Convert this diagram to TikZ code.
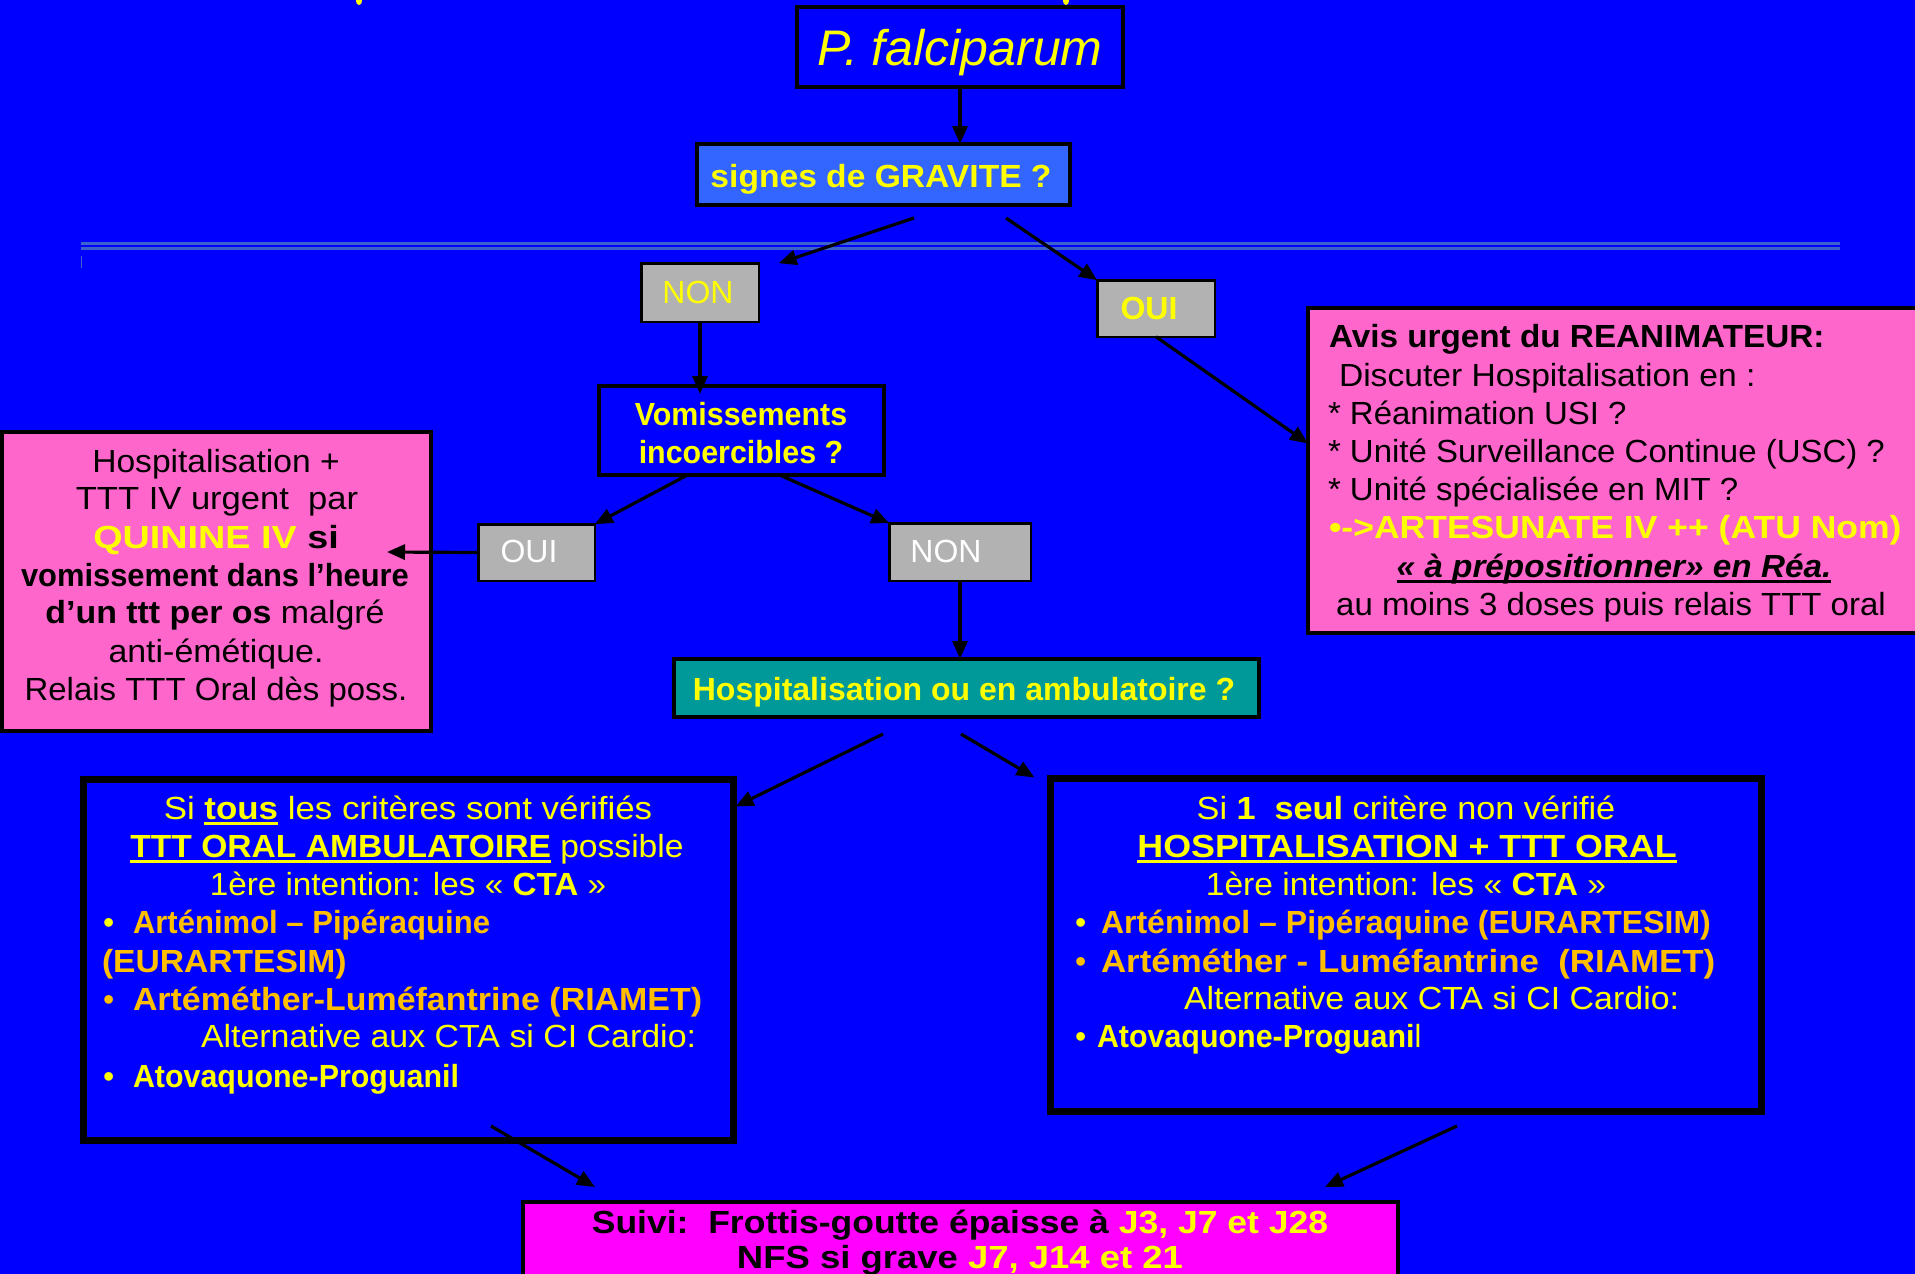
\documentclass[tikz,border=0pt]{standalone}
\usepackage{graphicx}
\usepackage{fontspec}
\setmainfont{Liberation Sans}
\usetikzlibrary{arrows.meta,calc}

\definecolor{bgblue}{HTML}{0000FF}
\definecolor{lightblue}{HTML}{3366FF}
\definecolor{rulesteel}{HTML}{3A63CC}
\definecolor{greybox}{HTML}{B2B2B2}
\definecolor{pinkbox}{HTML}{FF66CC}
\definecolor{tealbox}{HTML}{009999}
\definecolor{magentabox}{HTML}{FF00FF}
\definecolor{ytext}{HTML}{FFFF00}
\definecolor{otext}{HTML}{FFBF00}

\newcommand\bodysize{\fontsize{32}{38}\selectfont}
\newsavebox\ulinebox
\newcommand\ulined[1]{\sbox\ulinebox{#1}\rlap{\rule[-6pt]{\wd\ulinebox}{3pt}}\usebox\ulinebox}
\newcommand\bul[2]{\makebox[#1][l]{•}#2}
% horizontal stretch of one line of text
\newcommand\sx[2]{\scalebox{#1}[1]{#2}}

\begin{document}
\begin{tikzpicture}[x=1pt,y=-1pt,
  box/.style={draw=black, inner sep=0pt, outer sep=0pt},
  greybox/.style={box, fill=greybox, line width=2.5pt},
  arr/.style={draw=black, line width=3.2pt, -{Triangle[length=18pt,width=15pt]}},
  txt/.style={inner sep=0pt, outer sep=0pt, font=\bodysize},
]
\useasboundingbox (0,0) rectangle (1915,1274);
\fill[bgblue] (0,0) rectangle (1915,1274);

% fragments of a heading above the frame
\fill[ytext] (359,1) ellipse (3 and 4);
\fill[ytext] (1066,1) ellipse (3 and 4);

% double separator rule
\draw[rulesteel, line width=2.6pt] (81,243.3) -- (1840,243.3);
\draw[rulesteel, line width=2.6pt] (81,248.6) -- (1840,248.6);
\draw[rulesteel, line width=0.8pt] (81,256) -- (81,268);

% boxes
\node[box, fill=bgblue, line width=4pt, minimum width=326pt, minimum height=80pt] (pf) at (960,47) {};
\node[box, fill=lightblue, line width=4pt, minimum width=373pt, minimum height=61pt] (grav) at (883.5,174.5) {};
\node[greybox, minimum width=117.5pt, minimum height=58.5pt] (non1) at (700,292.5) {};
\node[greybox, minimum width=117.5pt, minimum height=56.5pt] (oui1) at (1156,308.5) {};
\node[box, fill=pinkbox, line width=4pt, minimum width=627pt, minimum height=325pt] (avis) at (1621.5,470.5) {};
\node[box, fill=bgblue, line width=4pt, minimum width=285pt, minimum height=89pt] (vom) at (741.5,430.5) {};
\node[greybox, minimum width=116.5pt, minimum height=56.5pt] (oui2) at (536.5,552.5) {};
\node[greybox, minimum width=141.5pt, minimum height=57.5pt] (non2) at (960,552) {};
\node[box, fill=pinkbox, line width=4pt, minimum width=429pt, minimum height=299pt] (quin) at (216.5,581.5) {};
\node[box, fill=tealbox, line width=4pt, minimum width=585pt, minimum height=58pt] (hosp) at (966.5,688) {};
\node[box, fill=bgblue, line width=7pt, minimum width=650pt, minimum height=361pt] (lbox) at (408.5,960) {};
\node[box, fill=bgblue, line width=7pt, minimum width=711pt, minimum height=333pt] (rbox) at (1406,945) {};
\node[box, fill=magentabox, line width=4pt, minimum width=875pt, minimum height=100pt] (suivi) at (960.5,1252) {};

% connector start points
\coordinate (g1) at (914,218);
\coordinate (g2) at (1006,218);
\coordinate (qtip) at (387,552);
\coordinate (h1) at (883,734);
\coordinate (h2) at (961,734);
\coordinate (b1) at (491,1126);
\coordinate (b2) at (1457,1126);

% connectors
\draw[arr] (pf.south) -- (pf.south |- grav.north);
\draw[arr] (g1) -- ($(non1.north east)+(20,0)$);
\draw[arr] (g2) -- (oui1.north west);
\draw[arr] (oui1.south) -- ($(avis.west)+(0,-27)$);
\draw[arr] (non1.south) -- ($(non1.south |- vom.north)+(0,8)$);
\draw[arr] ($(vom.south)+(-54,0)$) -- (oui2.north east);
\draw[arr] ($(vom.south)+(38,0)$) -- (non2.north west);
\draw[arr] (oui2.west) -- (qtip);
\draw[arr] (non2.south) -- (non2.south |- hosp.north);
\draw[arr] (h1) -- ($(lbox.north east)+(2,27)$);
\draw[arr] (h2) -- ($(rbox.north west)+(-16,-1)$);
\draw[arr] (b1) -- ($(suivi.north west)+(72,-15)$);
\draw[arr] (b2) -- ($(suivi.north east)+(-73,-15)$);

% labels of the decision boxes
\node[txt, font=\fontsize{50}{60}\selectfont\itshape, text=ytext, anchor=base] (tpf) at (960,65) {P. falciparum};
\node[txt, text=ytext, anchor=base] (tgrav) at (881,187) {\sx{1.05}{\textbf{signes de GRAVITE ?}}};
\node[txt, text=ytext, anchor=base] (tnon1) at (698,303) {NON};
\node[txt, text=ytext, anchor=base] (toui1) at (1149,319) {\textbf{OUI}};
\node[txt, text=ytext, anchor=base] (tvom1) at (741,425) {\sx{0.95}{\textbf{Vomissements}}};
\node[txt, text=ytext, anchor=base] (tvom2) at (741,463) {\sx{0.95}{\textbf{incoercibles ?}}};
\node[txt, text=white, anchor=base] (toui2) at (529,562) {OUI};
\node[txt, text=white, anchor=base] (tnon2) at (946,562) {NON};
\node[txt, text=ytext, anchor=base] (thosp) at (964,700) {\textbf{Hospitalisation ou en ambulatoire ?}};

% intensive care advice
\node[txt, anchor=base west] (av1) at (1329,347) {\sx{1.04}{\textbf{Avis urgent du REANIMATEUR:}}};
\node[txt, anchor=base west] (av2) at (1339,386) {\sx{1.05}{Discuter Hospitalisation en :}};
\node[txt, anchor=base west] (av3) at (1328,424) {\sx{1.03}{* Réanimation USI ?}};
\node[txt, anchor=base west] (av4) at (1328,462) {\sx{1.03}{* Unité Surveillance Continue (USC) ?}};
\node[txt, anchor=base west] (av5) at (1328,500) {\sx{1.03}{* Unité spécialisée en MIT ?}};
\node[txt, anchor=base west, text=ytext] (av6) at (1329,538) {\sx{1.11}{\textbf{•->ARTESUNATE IV ++ (ATU Nom)}}};
\node[txt, anchor=base] (av7) at (1614,577) {\sx{1.04}{\ulined{\textbf{\textit{« à prépositionner» en Réa.}}}}};
\node[txt, anchor=base] (av8) at (1611,615) {\sx{1.03}{au moins 3 doses puis relais TTT oral}};

% vomiting branch
\node[txt, anchor=base] (q1) at (216,472) {\sx{1.05}{Hospitalisation +}};
\node[txt, anchor=base] (q2) at (217,509) {\sx{1.08}{TTT IV urgent\ \ par}};
\node[txt, anchor=base] (q3) at (216,548) {\sx{1.18}{\textcolor{ytext}{\textbf{QUININE IV}} \textbf{si}}};
\node[txt, anchor=base] (q4) at (215,586) {\sx{0.965}{\textbf{vomissement dans l’heure}}};
\node[txt, anchor=base] (q5) at (215,623) {\sx{1.06}{\textbf{d’un ttt per os} malgré}};
\node[txt, anchor=base] (q6) at (216,662) {\sx{1.06}{anti-émétique.}};
\node[txt, anchor=base] (q7) at (216,700) {\sx{1.03}{Relais TTT Oral dès poss.}};

% outpatient treatment
\node[txt, anchor=base, text=ytext] (l1) at (408,819) {\sx{1.09}{Si \ulined{\textbf{tous}} les critères sont vérifiés}};
\node[txt, anchor=base, text=ytext] (l2) at (407,857) {\sx{1.05}{\ulined{\textbf{TTT ORAL AMBULATOIRE}} possible}};
\node[txt, anchor=base, text=ytext] (l3) at (408,895) {\sx{1.04}{1ère intention: les « \textbf{CTA} »}};
\node[txt, anchor=base west] (l4) at (103,933) {\textcolor{ytext}{\makebox[30pt][l]{•}}\textcolor{otext}{\sx{0.97}{\textbf{Arténimol – Pipéraquine}}}};
\node[txt, anchor=base west, text=otext] (l5) at (102,972) {\sx{1.05}{\textbf{(EURARTESIM)}}};
\node[txt, anchor=base west, text=otext] (l6) at (103,1010) {\bul{30pt}{\sx{1.06}{\textbf{Artéméther-Luméfantrine (RIAMET)}}}};
\node[txt, anchor=base west, text=ytext] (l7) at (201,1047) {\sx{1.06}{Alternative aux CTA si CI Cardio:}};
\node[txt, anchor=base west, text=ytext] (l8) at (103,1087) {\bul{30pt}{\sx{0.95}{\textbf{Atovaquone-Proguanil}}}};

% hospital treatment
\node[txt, anchor=base, text=ytext] (r1) at (1406,819) {\sx{1.07}{Si \textbf{1\ \ seul} critère non vérifié}};
\node[txt, anchor=base, text=ytext] (r2) at (1407,857) {\sx{1.12}{\ulined{\textbf{HOSPITALISATION + TTT ORAL}}}};
\node[txt, anchor=base, text=ytext] (r3) at (1406,895) {\sx{1.05}{1ère intention: les « \textbf{CTA} »}};
\node[txt, anchor=base west] (r4) at (1075,933) {\textcolor{ytext}{\makebox[26pt][l]{•}}\textcolor{otext}{\textbf{Arténimol – Pipéraquine (EURARTESIM)}}};
\node[txt, anchor=base west, text=otext] (r5) at (1075,972) {\bul{26pt}{\sx{1.09}{\textbf{Artéméther - Luméfantrine\ \ (RIAMET)}}}};
\node[txt, anchor=base west, text=ytext] (r6) at (1184,1009) {\sx{1.06}{Alternative aux CTA si CI Cardio:}};
\node[txt, anchor=base west, text=ytext] (r7) at (1075,1047) {\bul{22pt}{\sx{0.95}{\textbf{Atovaquone-Proguani}l}}};

% follow-up
\node[txt, anchor=base] (s1) at (960,1233) {\sx{1.11}{\textbf{Suivi:\ \ Frottis-goutte épaisse à \textcolor{ytext}{J3, J7 et J28}}}};
\node[txt, anchor=base] (s2) at (960,1268) {\sx{1.14}{\textbf{NFS si grave \textcolor{ytext}{J7, J14 et 21}}}};
\end{tikzpicture}
\end{document}
